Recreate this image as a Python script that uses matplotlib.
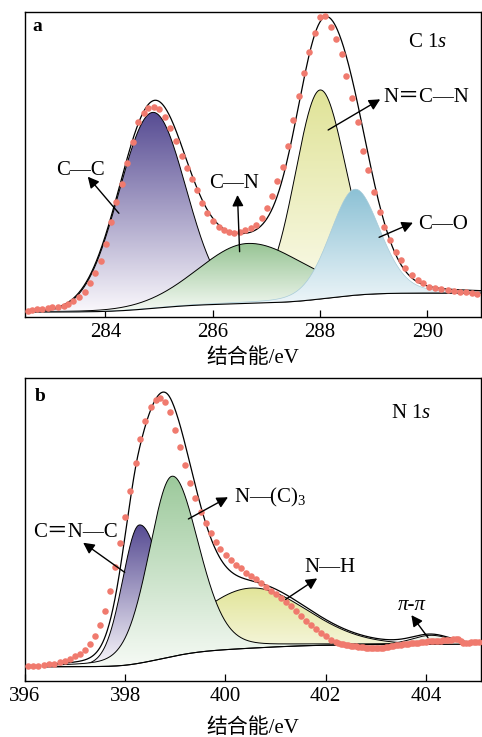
import numpy as np
import matplotlib
matplotlib.use("Agg")
import matplotlib.pyplot as plt
from matplotlib.patches import Polygon
from matplotlib.colors import to_rgb

plt.rcParams['font.family'] = ['Liberation Serif', 'DejaVu Sans', 'Noto Sans CJK SC']
plt.rcParams['mathtext.fontset'] = 'custom'
plt.rcParams['mathtext.rm'] = 'Liberation Serif'
plt.rcParams['mathtext.it'] = 'Liberation Serif:italic'

# ---------------- C 1s spectrum ----------------
c1s_energy = [282.55, 282.63, 282.73, 282.82, 282.92, 283.01, 283.12, 283.22, 283.31, 283.40,
              283.50, 283.61, 283.71, 283.81, 283.91, 284.01, 284.11, 284.20, 284.30, 284.40,
              284.51, 284.61, 284.71, 284.80, 284.90, 284.99, 285.10, 285.21, 285.32, 285.43,
              285.51, 285.61, 285.70, 285.80, 285.90, 286.00, 286.11, 286.20, 286.30, 286.40,
              286.50, 286.60, 286.71, 286.81, 286.91, 287.01, 287.10, 287.20, 287.30, 287.41,
              287.50, 287.60, 287.70, 287.80, 287.90, 288.00, 288.10, 288.20, 288.30, 288.40,
              288.49, 288.60, 288.70, 288.80, 288.89, 289.00, 289.11, 289.20, 289.31, 289.41,
              289.50, 289.59, 289.72, 289.82, 289.92, 290.03, 290.15, 290.26, 290.38, 290.49,
              290.61, 290.72, 290.83, 290.92]
c1s_counts = [6.3, 7.0, 8.0, 8.3, 8.7, 9.7, 10.3, 11.0, 12.7, 15.7,
              19.7, 25.0, 33.7, 43.7, 56.3, 73.0, 95.3, 115.0, 133.0, 153.7,
              175.3, 194.7, 204.3, 208.7, 209.7, 207.7, 200.3, 188.7, 176.3, 161.0,
              149.3, 138.0, 127.0, 114.0, 103.7, 96.0, 90.3, 87.0, 85.3, 84.3,
              85.3, 87.0, 89.3, 92.0, 98.7, 108.7, 121.0, 136.0, 150.0, 171.3,
              196.7, 221.3, 243.7, 264.7, 283.7, 300.3, 301.3, 290.0, 278.0, 262.7,
              241.3, 219.3, 194.7, 166.3, 147.0, 125.3, 105.3, 90.3, 77.0, 65.3,
              57.0, 48.7, 42.0, 37.0, 33.7, 30.3, 28.7, 28.0, 27.0, 26.0,
              25.3, 24.7, 24.0, 22.7]

c1s_names = ['C—C', 'C—N', 'N＝C—N', 'C—O']
c1s_center = [284.88, 286.66, 288.00, 288.65]
c1s_height = [196.0, 60.0, 209.0, 106.0]
c1s_fwhm_left = [1.48, 2.20, 1.10, 1.10]
c1s_fwhm_right = [1.45, 2.50, 1.15, 1.10]
c1s_lorentz = [0.0, 0.1, 0.1, 0.2]
c1s_background = [5.0, 24.0]
c1s_range = [282.5, 291.0]

# ---------------- N 1s spectrum ----------------
n1s_energy = [396.05, 396.15, 396.25, 396.37, 396.48, 396.58, 396.70, 396.80, 396.90, 397.00,
              397.10, 397.20, 397.30, 397.40, 397.50, 397.60, 397.69, 397.79, 397.89, 397.99,
              398.10, 398.21, 398.29, 398.39, 398.51, 398.61, 398.69, 398.79, 398.90, 399.00,
              399.10, 399.20, 399.30, 399.40, 399.51, 399.61, 399.71, 399.81, 399.90, 400.01,
              400.11, 400.21, 400.31, 400.41, 400.51, 400.61, 400.71, 400.81, 400.91, 401.00,
              401.10, 401.20, 401.30, 401.40, 401.50, 401.60, 401.70, 401.80, 401.90, 402.00,
              402.10, 402.20,
              402.25, 402.30, 402.35, 402.40, 402.45, 402.50, 402.55, 402.60, 402.65, 402.70,
              402.75, 402.80, 402.85, 402.90, 402.95, 403.00, 403.05, 403.10, 403.15, 403.20,
              403.25, 403.30, 403.35, 403.40, 403.45, 403.50, 403.55, 403.60, 403.65, 403.70,
              403.75, 403.80, 403.85, 403.90, 403.95, 404.00, 404.05, 404.10, 404.15, 404.20,
              404.25, 404.30, 404.35, 404.40, 404.45, 404.50, 404.55, 404.60, 404.65, 404.70,
              404.75, 404.80, 404.85, 404.90, 404.95, 405.00, 405.05]
n1s_counts = [14.7, 14.7, 15.4, 15.7, 16.7, 17.4, 18.7, 20.0, 22.4, 24.7,
              27.4, 30.7, 36.7, 44.7, 55.7, 70.0, 90.0, 113.4, 137.4, 163.4,
              190.0, 218.0, 241.4, 259.0, 273.4, 280.7, 282.4, 278.0, 268.0, 250.7,
              233.4, 215.5, 198.0, 182.4, 168.5, 158.0, 148.0, 139.0, 131.4, 125.7,
              120.7, 115.7, 112.4, 108.0, 104.7, 101.4, 97.4, 93.4, 90.0, 86.4,
              82.4, 79.0, 74.7, 70.0, 64.7, 60.0, 55.7, 51.4, 48.0, 44.7,
              41.4, 38.6,
              37.5, 37.0, 36.6, 36.2, 35.8, 35.4, 35.0, 34.6, 34.2, 33.8,
              33.5, 33.2, 33.0, 32.8, 32.6, 32.6, 32.8, 33.0, 33.4, 33.8,
              34.3, 34.8, 35.2, 35.6, 36.0, 36.4, 36.7, 37.0, 37.3, 37.5,
              37.8, 38.1, 38.4, 38.7, 39.0, 39.2, 39.5, 39.7, 39.9, 40.1,
              40.3, 40.4, 40.5, 40.7, 40.9, 41.2, 41.8, 42.3, 41.5, 39.5,
              38.2, 38.0, 38.3, 38.6, 38.8, 38.9, 39.0]

n1s_names = ['C＝N—C', 'N—(C)$_3$', 'N—H', 'π-π']
n1s_center = [398.28, 398.93, 400.50, 404.10]
n1s_height = [138.0, 180.0, 60.0, 9.0]
n1s_fwhm_left = [0.80, 1.08, 2.60, 0.90]
n1s_fwhm_right = [1.10, 1.25, 2.60, 0.90]
n1s_lorentz = [0.1, 0.2, 0.05, 0.1]
n1s_background = [14.2, 36.8]
n1s_range = [396.4, 405.1]

DOT = '#f07a6e'


def gl_peak(x, center, height, wl, wr, m):
    w = np.where(x < center, wl, wr)
    t = (x - center) / w
    g = np.exp(-4 * np.log(2) * t ** 2)
    lor = 1.0 / (1.0 + 4 * t ** 2)
    return height * ((1 - m) * g + m * lor)


def shirley(x, signal, lo, hi):
    cum = np.concatenate([[0.0], np.cumsum(0.5 * (signal[1:] + signal[:-1]) * np.diff(x))])
    return lo + (hi - lo) * cum / cum[-1]


def gradient_fill(ax, x, lower, upper, top, bottom, z, edge='black', elw=0.7):
    verts = np.vstack([np.column_stack([x, upper]),
                       np.column_stack([x[::-1], lower[::-1]])])
    patch = Polygon(verts, closed=True, facecolor='none', edgecolor='none', zorder=z)
    ax.add_patch(patch)
    frac = np.linspace(0, 1, 256)[:, None, None]
    img = np.array(to_rgb(bottom)) * (1 - frac) + np.array(to_rgb(top)) * frac
    im = ax.imshow(img, extent=[x[0], x[-1], lower.min(), upper.max()],
                   origin='lower', aspect='auto', zorder=z, interpolation='bilinear')
    im.set_clip_path(patch)
    if edge is not None:
        ax.plot(x, upper, color=edge, lw=elw, zorder=z + 0.1)


def draw_panel(ax, energy, counts, centers, heights, wl, wr, mix, bg_ends, xr,
               styles, order):
    x = np.linspace(xr[0], xr[1], 900)
    comps = [gl_peak(x, c, h, a, b, m)
             for c, h, a, b, m in zip(centers, heights, wl, wr, mix)]
    total = np.sum(comps, axis=0)
    bg = shirley(x, total, bg_ends[0], bg_ends[1])
    for i in order:
        top, bottom, edge, elw, z = styles[i]
        gradient_fill(ax, x, bg, bg + comps[i], top, bottom, z, edge, elw)
    ax.plot(x, bg, color='black', lw=0.8, zorder=9)
    ax.plot(x, bg + total, color='black', lw=0.9, zorder=10)
    ax.plot(energy, counts, 'o', ms=4.7, color=DOT, mec='none', zorder=11)


def annotate(ax, text, tail, head, pos, **kw):
    ax.annotate('', xy=head, xytext=tail,
                arrowprops=dict(arrowstyle='-|>,head_length=0.55,head_width=0.28',
                                lw=1.0, color='black', mutation_scale=12,
                                shrinkA=0, shrinkB=0), zorder=12)
    ax.text(pos[0], pos[1], text, ha='center', va='baseline', fontsize=15, zorder=12, **kw)


def style_axes(ax, xlim, ylim, ticks, labelpad):
    ax.set_xlim(*xlim)
    ax.set_ylim(*ylim)
    ax.set_yticks([])
    ax.set_xticks(ticks)
    ax.set_xticklabels([str(t) for t in ticks])
    ax.tick_params(axis='x', direction='in', length=5, width=0.9, labelsize=15, pad=4.5)
    for s in ax.spines.values():
        s.set_linewidth(1.0)
    ax.set_xlabel('结合能/eV', fontsize=15, labelpad=labelpad,
                  family=['Liberation Serif', 'Noto Sans CJK SC'])


fig = plt.figure(figsize=(4.82, 7.37), dpi=100)
fig.patch.set_facecolor('white')

# ---- panel a ----
ax_a = fig.add_axes([0.0519, 0.5699, 0.9461, 0.4138])
styles_a = [
    ('#574c93', '#faf8fc', 'black', 0.7, 2),
    ('#97c494', '#f6faf5', 'black', 0.7, 4),
    ('#e0e397', '#fcfcf1', 'black', 0.7, 3),
    ('#8cc1d5', '#f4f9fb', '#a8cbd8', 0.5, 5),
]
draw_panel(ax_a, c1s_energy, c1s_counts, c1s_center, c1s_height, c1s_fwhm_left,
           c1s_fwhm_right, c1s_lorentz, c1s_background, c1s_range, styles_a,
           order=[0, 2, 1, 3])
style_axes(ax_a, (282.5, 291.0), (0, 305), [284, 286, 288, 290], 4.5)

annotate(ax_a, c1s_names[0], (284.25, 103.7), (283.67, 140.3), (283.54, 142))
annotate(ax_a, c1s_names[1], (286.50, 65.3), (286.46, 122.0), (286.39, 128.7))
annotate(ax_a, c1s_names[2], (288.15, 187.0), (289.12, 217.7), (289.98, 215.3),
         family=['Liberation Serif', 'Noto Sans CJK SC'])
annotate(ax_a, c1s_names[3], (289.10, 79.7), (289.73, 94.3), (290.29, 87.7))
ax_a.text(0.026, 0.939, 'a', transform=ax_a.transAxes, ha='center', va='baseline',
          fontsize=14, fontweight='bold')
ax_a.text(0.883, 0.886, 'C 1$\\mathit{s}$', transform=ax_a.transAxes, ha='center',
          va='baseline', fontsize=15)

# ---- panel b ----
ax_b = fig.add_axes([0.0519, 0.0760, 0.9461, 0.4111])
styles_b = [
    ('#574c93', '#faf8fc', 'black', 0.7, 3),
    ('#9cc99b', '#f6faf5', 'black', 0.7, 4),
    ('#e2e59a', '#fbfbef', 'black', 0.7, 2),
    ('#eef4ea', '#fafcf9', 'black', 0.7, 5),
]
draw_panel(ax_b, n1s_energy, n1s_counts, n1s_center, n1s_height, n1s_fwhm_left,
           n1s_fwhm_right, n1s_lorentz, n1s_background, n1s_range, styles_b,
           order=[2, 0, 1, 3])
style_axes(ax_b, (396.0, 405.1), (0, 302.4), [396, 398, 400, 402, 404], 8.5)

annotate(ax_b, n1s_names[0], (397.99, 108.4), (397.16, 138.0), (397.0, 144.0),
         family=['Liberation Serif', 'Noto Sans CJK SC'])
annotate(ax_b, n1s_names[1], (399.26, 161.7), (400.05, 183.4), (400.90, 178.0))
annotate(ax_b, n1s_names[2], (401.20, 81.4), (401.83, 102.4), (402.08, 108.4))
annotate(ax_b, n1s_names[3], (404.04, 43.4), (403.71, 65.7), (403.72, 70.7),
         style='italic')
ax_b.text(0.034, 0.923, 'b', transform=ax_b.transAxes, ha='center', va='baseline',
          fontsize=14, fontweight='bold')
ax_b.text(0.846, 0.868, 'N 1$\\mathit{s}$', transform=ax_b.transAxes, ha='center',
          va='baseline', fontsize=15)

fig.savefig('out.png', dpi=100, facecolor='white')
